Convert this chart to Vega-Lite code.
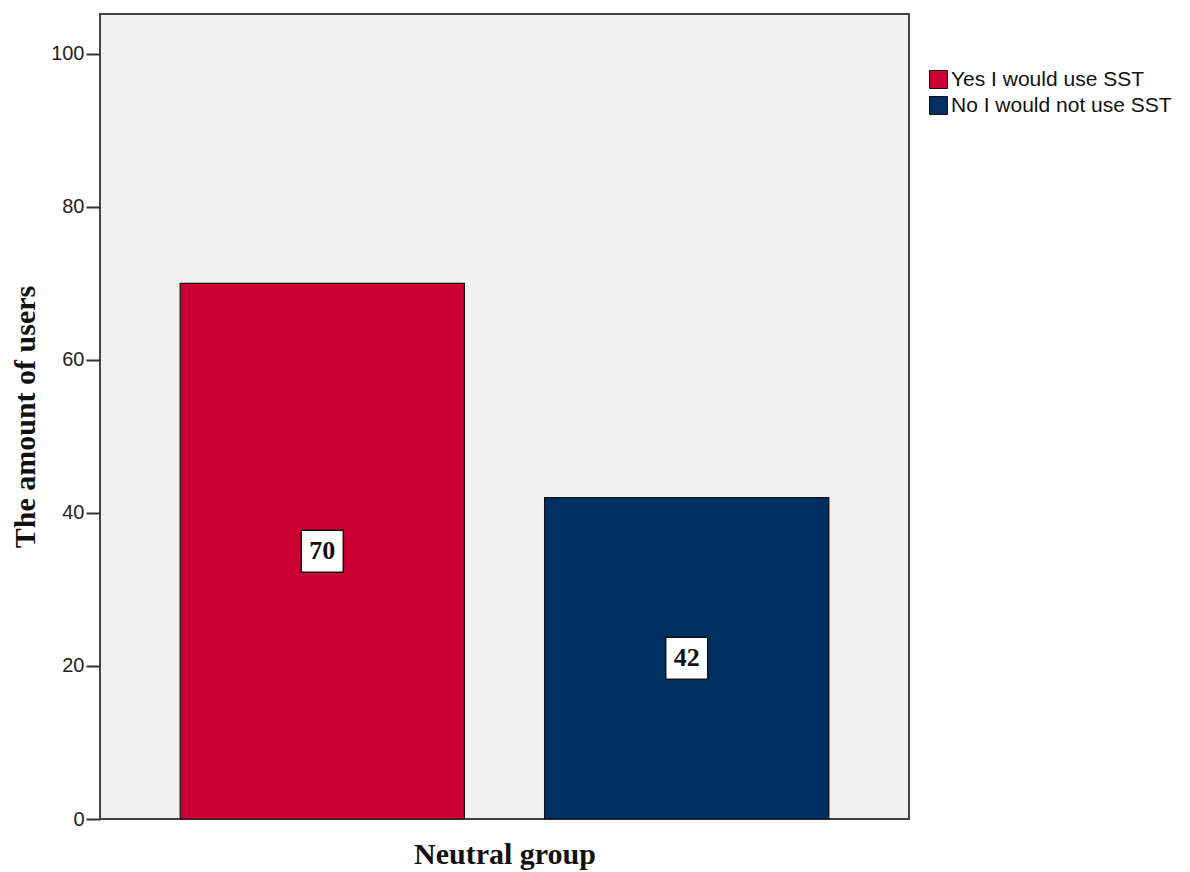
{
  "$schema": "https://vega.github.io/schema/vega-lite/v6.json",
  "width": 809,
  "height": 805,
  "autosize": "none",
  "padding": {"left": 100, "top": 14, "right": 281, "bottom": 53},
  "background": "white",
  "config": {
    "view": {"fill": "#f0f0f0", "stroke": "#444444", "strokeWidth": 2}
  },
  "data": {
    "values": [
      {"group": "Neutral group", "answer": "Yes I would use SST", "count": 70},
      {"group": "Neutral group", "answer": "No I would not use SST", "count": 42}
    ]
  },
  "encoding": {
    "x": {
      "field": "answer",
      "type": "nominal",
      "sort": null,
      "scale": {"paddingInner": 0.22, "paddingOuter": 0.22},
      "axis": {
        "labels": false,
        "ticks": false,
        "domain": false,
        "title": "Neutral group",
        "titleFont": "Liberation Serif",
        "titleFontWeight": "bold",
        "titleFontSize": 30,
        "titleColor": "#111111",
        "titlePadding": 20
      }
    }
  },
  "resolve": {"scale": {"y": "independent"}},
  "layer": [
    {
      "mark": {"type": "bar", "stroke": "#111111", "strokeWidth": 1.2},
      "encoding": {
        "y": {
          "field": "count",
          "type": "quantitative",
          "scale": {"domain": [0, 105.2], "nice": false},
          "axis": {
            "values": [0, 20, 40, 60, 80, 100],
            "grid": false,
            "domain": false,
            "tickSize": 14,
            "tickColor": "#333333",
            "tickWidth": 2,
            "labelFont": "Liberation Sans",
            "labelFontSize": 20,
            "labelColor": "#222222",
            "labelPadding": 2,
            "title": "The amount of users",
            "titleFont": "Liberation Serif",
            "titleFontWeight": "bold",
            "titleFontSize": 30,
            "titleColor": "#111111",
            "titlePadding": 10
          }
        },
        "color": {
          "field": "answer",
          "type": "nominal",
          "sort": null,
          "scale": {
            "domain": ["Yes I would use SST", "No I would not use SST"],
            "range": ["#cc0033", "#003063"]
          },
          "legend": {
            "title": null,
            "orient": "none",
            "legendX": 828,
            "legendY": 55,
            "symbolType": "square",
            "symbolSize": 324,
            "symbolStrokeColor": "#111111",
            "symbolStrokeWidth": 1,
            "symbolOpacity": 1,
            "labelFont": "Liberation Sans",
            "labelFontSize": 21,
            "labelColor": "#111111",
            "labelOffset": 2,
            "labelLimit": 400,
            "rowPadding": 3
          }
        }
      }
    },
    {
      "mark": {"type": "point", "shape": "square", "filled": true, "fill": "white", "stroke": "#111111", "strokeWidth": 1.5, "opacity": 1, "size": 1764},
      "encoding": {
        "y": {"field": "count", "type": "quantitative", "scale": {"domain": [0, 210.4], "nice": false}, "axis": null}
      }
    },
    {
      "mark": {"type": "text", "font": "Liberation Serif", "fontWeight": "bold", "fontSize": 26, "color": "#111111", "baseline": "middle", "align": "center"},
      "encoding": {
        "y": {"field": "count", "type": "quantitative", "scale": {"domain": [0, 210.4], "nice": false}, "axis": null},
        "text": {"field": "count", "type": "quantitative"}
      }
    }
  ]
}
